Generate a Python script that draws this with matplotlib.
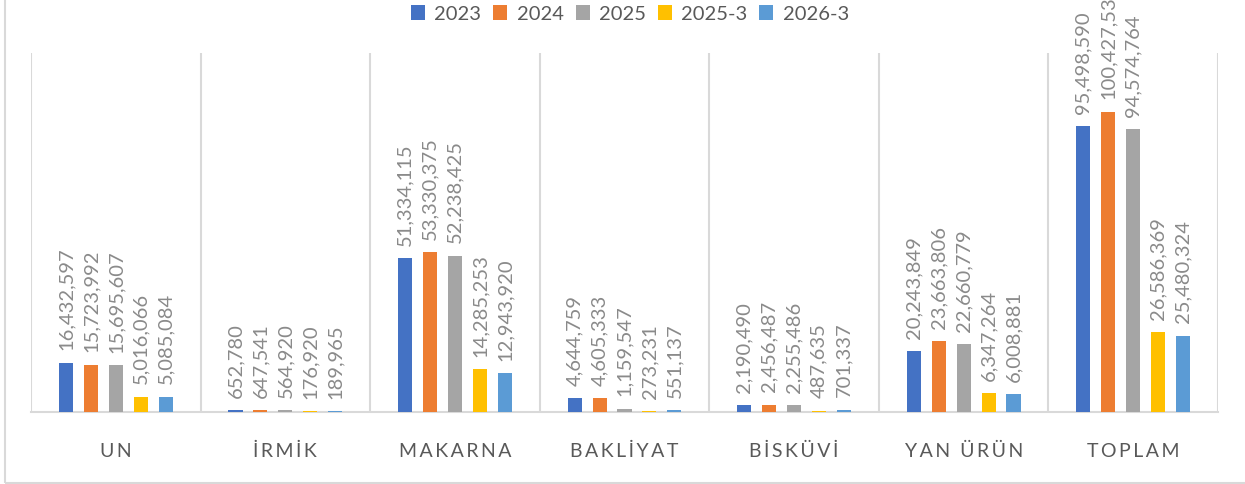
import matplotlib
matplotlib.use("Agg")
import matplotlib.pyplot as plt
from matplotlib.patches import Rectangle
import numpy as np

categories = ["UN", "İRMİK", "MAKARNA", "BAKLİYAT", "BİSKÜVİ", "YAN ÜRÜN", "TOPLAM"]
series_names = ["2023", "2024", "2025", "2025-3", "2026-3"]
v2023 = [16432597, 652780, 51334115, 4644759, 2190490, 20243849, 95498590]
v2024 = [15723992, 647541, 53330375, 4605333, 2456487, 23663806, 100427534]
v2025 = [15695607, 564920, 52238425, 1159547, 2255486, 22660779, 94574764]
v2025_3 = [5016066, 176920, 14285253, 273231, 487635, 6347264, 26586369]
v2026_3 = [5085084, 189965, 12943920, 551137, 701337, 6008881, 25480324]
series_values = [v2023, v2024, v2025, v2025_3, v2026_3]
colors = ["#4472C4", "#ED7D31", "#A5A5A5", "#FFC000", "#5B9BD5"]

plt.rcParams['font.family'] = ['Lato', 'DejaVu Sans']

W, H = 1245, 484
fig = plt.figure(figsize=(W / 100, H / 100), dpi=100)
ax = fig.add_axes([31 / W, 1 - 412 / H, (1218 - 31) / W, (412 - 53) / H])

n = len(categories)
x = np.arange(n)
step = 0.147
width = 0.083
for i, (name, vals, c) in enumerate(zip(series_names, series_values, colors)):
    pos = x + (i - 2) * step
    bars = ax.bar(pos, vals, width=width, color=c, label=name, zorder=3)
    for b, v in zip(bars, vals):
        ax.annotate(f"{v:,}", (b.get_x() + b.get_width() / 2, b.get_height()),
                    xytext=(0, 9), textcoords="offset points",
                    rotation=90, ha="center", va="bottom",
                    fontsize=14.5, color="#8a8a8a")

ax.set_xlim(-0.5, n - 0.5)
ax.set_ylim(0, 120_000_000)
ax.set_yticks([])
for k in range(n + 1):
    ax.axvline(k - 0.5, color="#D9D9D9", lw=1.5, zorder=1)
for s in ["top", "right", "left"]:
    ax.spines[s].set_visible(False)
ax.spines["bottom"].set_color("#D9D9D9")
ax.spines["bottom"].set_linewidth(1.5)
ax.set_xticks(x)

def spaced(s):
    words = s.split(" ")
    return "\u2009 \u2009".join("\u2009".join(list(w)) for w in words)

ax.set_xticklabels([spaced(c) for c in categories],
                   fontsize=14, color="#595959", family=['Lato', 'DejaVu Sans'])
ax.tick_params(axis="x", length=0, pad=22)

leg = fig.legend(loc="center", bbox_to_anchor=(0.506, 1 - 14 / H), ncol=5,
                 frameon=False, fontsize=14.5, handlelength=0.7, handleheight=0.7,
                 handletextpad=0.45, columnspacing=0.6, labelcolor="#595959")

fig.patches.append(Rectangle((4.5 / W, 1.5 / H), 1.5, 1.5, transform=fig.transFigure,
                             fill=False, edgecolor="#D9D9D9", lw=1.5, zorder=0))

fig.savefig("out.png", dpi=100)
